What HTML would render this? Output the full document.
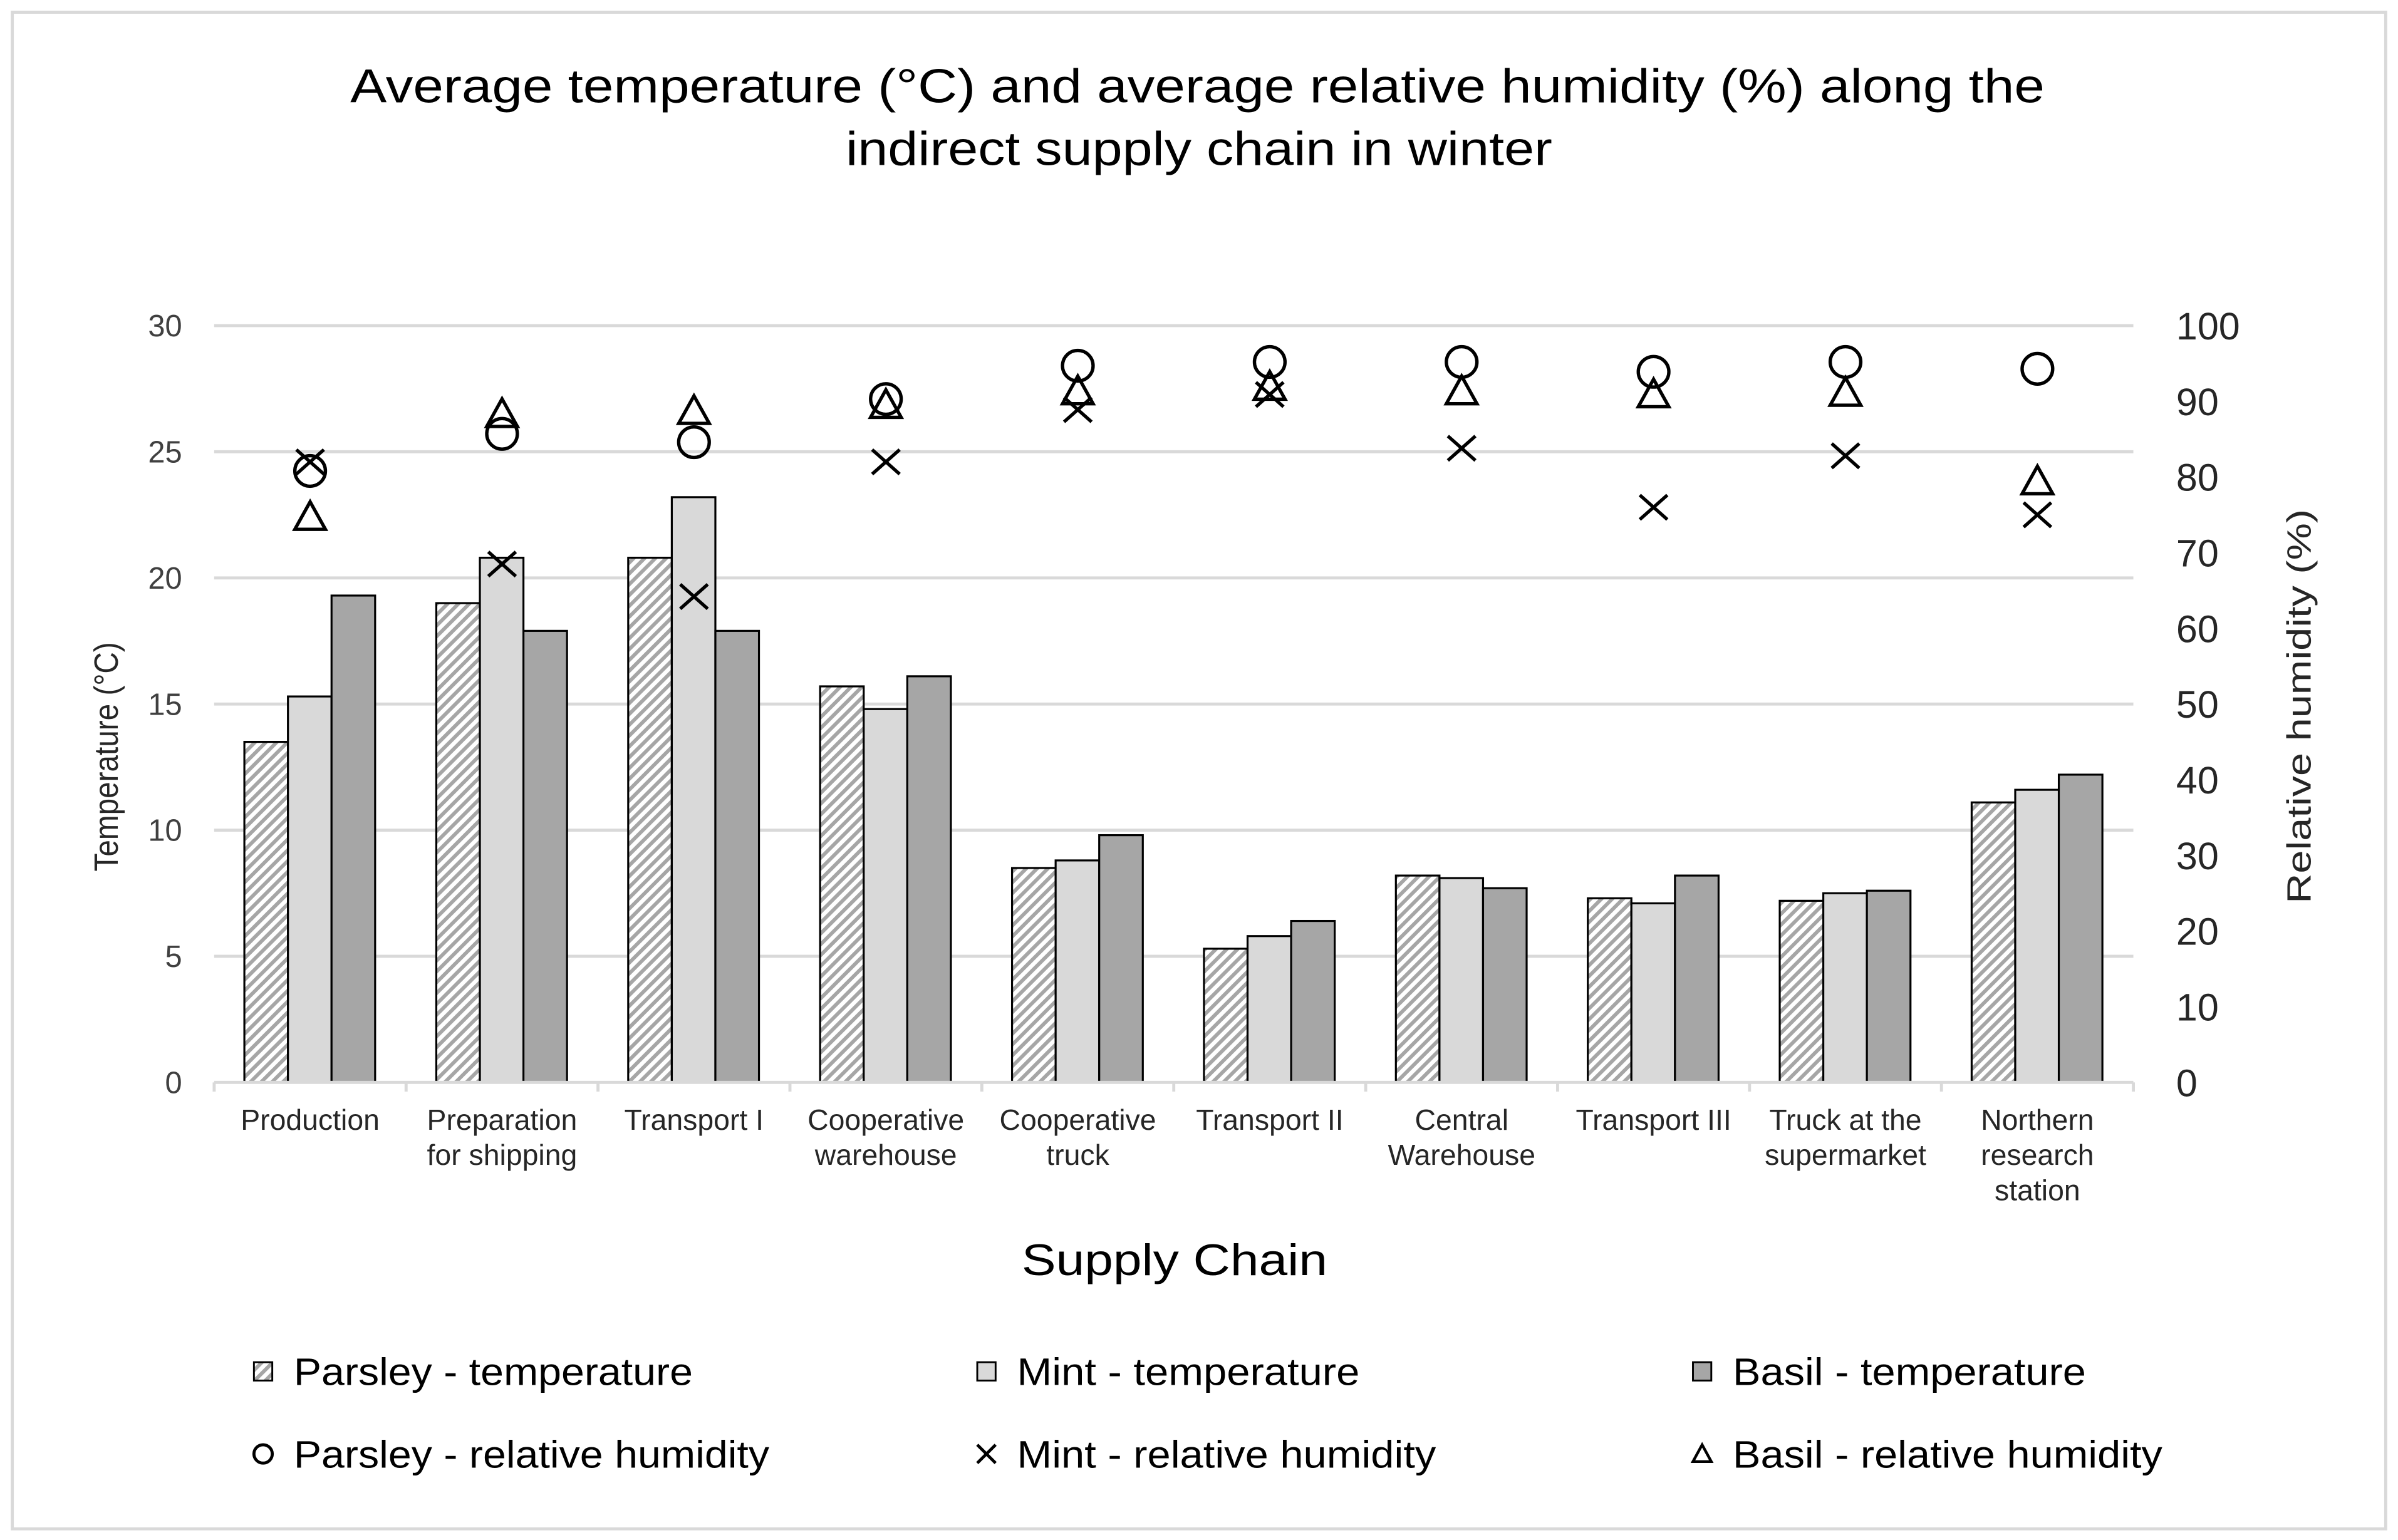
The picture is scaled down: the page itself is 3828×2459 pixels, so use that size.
<!DOCTYPE html>
<html><head><meta charset="utf-8"><style>
html,body{margin:0;padding:0;background:#fff}
svg{display:block}
text{font-family:"Liberation Sans",sans-serif}
</style></head><body>
<svg id="chart" width="3828" height="2459" viewBox="0 0 1568 1007.3" xmlns="http://www.w3.org/2000/svg">
<defs>
<pattern id="hatch" patternUnits="userSpaceOnUse" width="5" height="5" patternTransform="rotate(45)">
<rect width="5" height="5" fill="#fff"/><rect width="2.4" height="5" fill="#a6a6a6"/>
</pattern>
</defs>
<rect x="8" y="8" width="1552" height="992" fill="#fff" stroke="#d9d9d9" stroke-width="2"/>
<text x="783" y="67" font-size="31" text-anchor="middle" fill="#000" textLength="1108" lengthAdjust="spacingAndGlyphs">Average temperature (°C) and average relative humidity (%) along the</text>
<text x="784" y="108" font-size="31" text-anchor="middle" fill="#000" textLength="462" lengthAdjust="spacingAndGlyphs">indirect supply chain in winter</text>
<g id="grid"></g><g id="bars"></g><g id="marks"></g><g id="axes"></g>
<text transform="translate(77,495) rotate(-90)" font-size="22" text-anchor="middle" fill="#262626" textLength="150" lengthAdjust="spacingAndGlyphs">Temperature (°C)</text>
<text transform="translate(1511,462) rotate(-90)" font-size="22" text-anchor="middle" fill="#262626" textLength="258" lengthAdjust="spacingAndGlyphs">Relative humidity (%)</text>
<text x="768" y="834" font-size="29" text-anchor="middle" fill="#000" textLength="200" lengthAdjust="spacingAndGlyphs">Supply Chain</text>
<g id="legend"></g>
</svg>
<script>
const categories=[["Production"],["Preparation","for shipping"],["Transport I"],["Cooperative","warehouse"],["Cooperative","truck"],["Transport II"],["Central","Warehouse"],["Transport III"],["Truck at the","supermarket"],["Northern","research","station"]];
const parsleyTemp=[13.5,19.0,20.8,15.7,8.5,5.3,8.2,7.3,7.2,11.1];
const mintTemp=[15.3,20.8,23.2,14.8,8.8,5.8,8.1,7.1,7.5,11.6];
const basilTemp=[19.3,17.9,17.9,16.1,9.8,6.4,7.7,8.2,7.6,12.2];
const parsleyRH=[80.8,85.7,84.6,90.3,94.7,95.2,95.2,93.9,95.2,94.3];
const mintRH=[82.0,68.5,64.2,82.0,88.9,90.9,83.8,76.0,82.8,75.0];
const basilRH=[74.7,88.3,88.7,89.5,91.3,91.9,91.3,90.9,91.1,79.4];
const tempTicks=[0,5,10,15,20,25,30];
const rhTicks=[0,10,20,30,40,50,60,70,80,90,100];

const NS="http://www.w3.org/2000/svg";
const X0=140,X1=1395,Y0=708,Y1=213;
const bandW=(X1-X0)/categories.length;
function yT(v){return Y0-(v/30)*(Y0-Y1);}
function yH(v){return Y0-(v/100)*(Y0-Y1);}
function cx(i){return X0+bandW*(i+0.5);}
function mk(tag,attrs,parent){const e=document.createElementNS(NS,tag);for(const k in attrs)e.setAttribute(k,attrs[k]);parent.appendChild(e);return e;}
const grid=document.getElementById('grid'),bars=document.getElementById('bars'),marks=document.getElementById('marks'),axes=document.getElementById('axes'),legend=document.getElementById('legend');

tempTicks.forEach(t=>{
  if(t>0){const l=mk('line',{x1:X0,x2:X1,y1:yT(t),y2:yT(t),stroke:'#d9d9d9','stroke-width':2},grid);
  
  }
  const tx=mk('text',{x:119,y:yT(t)+7,'font-size':20,'text-anchor':'end',fill:'#404040'},axes);
  tx.textContent=t;
  
  
});
rhTicks.forEach(t=>{
  const tx=mk('text',{x:1423,y:yH(t)+9,'font-size':25,fill:'#262626'},axes);
  tx.textContent=t;
  
  
});
const ax=mk('line',{x1:X0,x2:X1,y1:Y0,y2:Y0,stroke:'#d9d9d9','stroke-width':2},axes);


for(let i=0;i<=categories.length;i++){
  const tk=mk('line',{x1:X0+bandW*i,x2:X0+bandW*i,y1:Y0,y2:Y0+6,stroke:'#d9d9d9','stroke-width':2},axes);
  
  
}
const fills=['url(#hatch)','#d9d9d9','#a6a6a6'];
const temps=[parsleyTemp,mintTemp,basilTemp];
const names=['parsley','mint','basil'];
const bw=28.5;
categories.forEach((c,i)=>{
  temps.forEach((arr,s)=>{
    const x=cx(i)-43+s*bw;
    const r=mk('rect',{x:x,y:yT(arr[i]),width:bw,height:Y0-yT(arr[i]),fill:fills[s],stroke:'#000','stroke-width':1.3},bars);
    
    
  });
  c.forEach((ln,j)=>{
    const t=mk('text',{x:cx(i),y:739+j*23,'font-size':19,'text-anchor':'middle',fill:'#262626'},axes);
    t.textContent=ln;
    
    
  });
});
function circle(x,y,p){return mk('circle',{cx:x,cy:y,r:10,fill:'none',stroke:'#000','stroke-width':2.2},p);}
function cross(x,y,p){return mk('path',{d:`M${x-9} ${y-8}L${x+9} ${y+8}M${x-9} ${y+8}L${x+9} ${y-8}`,fill:'none',stroke:'#000','stroke-width':2.2},p);}
function tri(x,y,p){return mk('path',{d:`M${x} ${y-10}L${x+10} ${y+8}L${x-10} ${y+8}Z`,fill:'none',stroke:'#000','stroke-width':2.2},p);}
categories.forEach((c,i)=>{
  const a=tri(cx(i),yH(basilRH[i]),marks);
  
  
  const b=circle(cx(i),yH(parsleyRH[i]),marks);
  
  
  const d=cross(cx(i),yH(mintRH[i]),marks);
  
  
});
const legItems=[
 {x:172,y:897,t:'Parsley - temperature',k:'bar',f:fills[0],w:261},
 {x:645,y:897,t:'Mint - temperature',k:'bar',f:fills[1],w:224},
 {x:1113,y:897,t:'Basil - temperature',k:'bar',f:fills[2],w:231},
 {x:172,y:951,t:'Parsley - relative humidity',k:'c',w:311},
 {x:645,y:951,t:'Mint - relative humidity',k:'x',w:274},
 {x:1113,y:951,t:'Basil - relative humidity',k:'t',w:281}];
legItems.forEach(it=>{
  const g=mk('g',{},legend);
  
  
  if(it.k==='bar')mk('rect',{x:it.x-6,y:it.y-6,width:12,height:12,fill:it.f,stroke:'#000','stroke-width':1.2},g);
  else if(it.k==='c')mk('circle',{cx:it.x,cy:it.y,r:6,fill:'none',stroke:'#000','stroke-width':2},g);
  else if(it.k==='x')mk('path',{d:`M${it.x-6} ${it.y-6}L${it.x+6} ${it.y+6}M${it.x-6} ${it.y+6}L${it.x+6} ${it.y-6}`,stroke:'#000','stroke-width':2},g);
  else mk('path',{d:`M${it.x} ${it.y-6}L${it.x+6} ${it.y+5}L${it.x-6} ${it.y+5}Z`,fill:'none',stroke:'#000','stroke-width':1.8},g);
  const t=mk('text',{x:it.x+20,y:it.y+9,'font-size':25,fill:'#000',textLength:it.w,lengthAdjust:'spacingAndGlyphs'},g);
  t.textContent=it.t;
});
</script>
</body></html>
